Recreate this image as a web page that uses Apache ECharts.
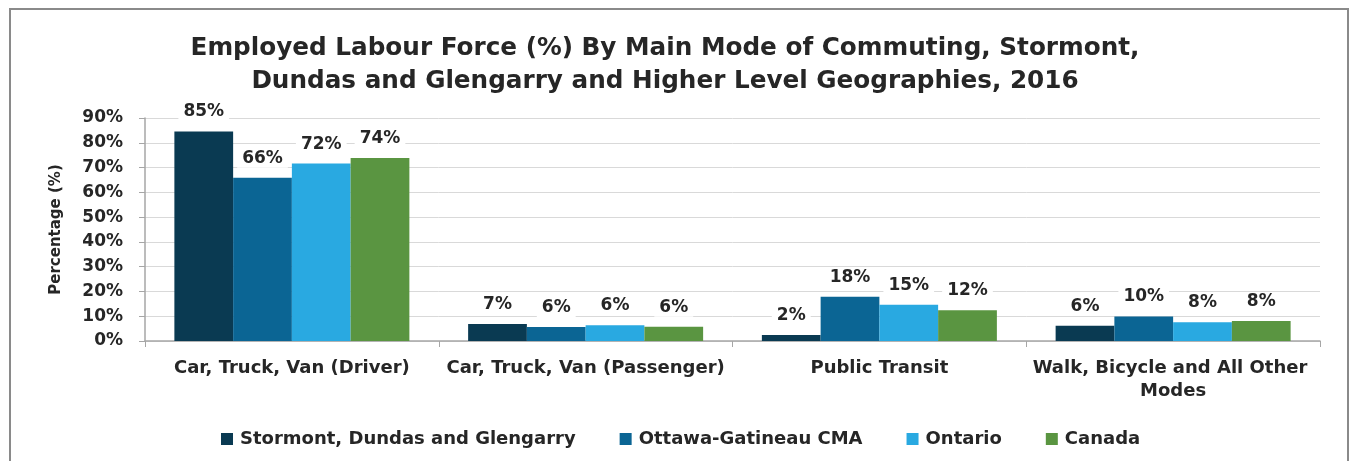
<!DOCTYPE html>
<html>
<head>
<meta charset="utf-8">
<script src="https://cdn.jsdelivr.net/npm/echarts@6/dist/echarts.min.js"></script>
<style>
  html, body { margin: 0; padding: 0; background: #fff; }
  #chart { width: 1349px; height: 461px; }
</style>
</head>
<body>
<div id="chart"></div>
<script>
var categories = ['Car, Truck, Van (Driver)', 'Car, Truck, Van (Passenger)', 'Public Transit', 'Walk, Bicycle and All Other Modes'];
var seriesNames = ['Stormont, Dundas and Glengarry', 'Ottawa-Gatineau CMA', 'Ontario', 'Canada'];
var sdgValues = [84.6, 6.9, 2.4, 6.2];
var ottawaValues = [65.9, 5.7, 17.9, 9.9];
var ontarioValues = [71.6, 6.4, 14.6, 7.6];
var canadaValues = [73.9, 5.8, 12.4, 8.1];
var yTicks = [0, 10, 20, 30, 40, 50, 60, 70, 80, 90];
var colors = ['#0a3a52', '#0b6594', '#29a9e1', '#5a9541'];

var font = '"DejaVu Sans", sans-serif';
var textColor = '#262626';

var chart = echarts.init(document.getElementById('chart'));

function makeSeries(name, values, color) {
    return {
        name: name,
        type: 'bar',
        data: values,
        barGap: '0%',
        barCategoryGap: '20%',
        itemStyle: { color: color },
        label: {
            show: true,
            position: 'top',
            distance: 10,
            color: textColor,
            fontFamily: font,
            fontWeight: 'bold',
            fontSize: 17,
            backgroundColor: '#fff',
            padding: [1, 5],
            formatter: function (p) { return Math.round(p.value) + '%'; }
        }
    };
}

var option = {
    backgroundColor: '#fff',
    animation: false,
    color: colors,
    graphic: [{
        type: 'rect',
        shape: { x: 10, y: 9, width: 1338, height: 470 },
        style: { fill: 'none', stroke: '#8a8a8a', lineWidth: 2 },
        silent: true
    }],
    title: {
        text: 'Employed Labour Force (%) By Main Mode of Commuting, Stormont,\nDundas and Glengarry and Higher Level Geographies, 2016',
        left: 660,
        textAlign: 'center',
        top: 27,
        textStyle: {
            fontFamily: font,
            fontWeight: 'bold',
            fontSize: 24.7,
            lineHeight: 33,
            color: textColor
        }
    },
    legend: {
        data: seriesNames,
        top: 425,
        left: 216,
        icon: 'rect',
        itemWidth: 12,
        itemHeight: 12,
        itemGap: 44,
        textStyle: {
            fontFamily: font,
            fontWeight: 'bold',
            fontSize: 18,
            color: textColor,
            padding: [0, 0, 0, 2]
        }
    },
    grid: { left: 145, right: 29, top: 118, bottom: 120 },
    xAxis: {
        type: 'category',
        data: categories,
        axisLine: { lineStyle: { color: '#a6a6a6', width: 1.5 } },
        axisTick: { show: true, length: 6, lineStyle: { color: '#a6a6a6' } },
        axisLabel: {
            margin: 16,
            color: textColor,
            fontFamily: font,
            fontWeight: 'bold',
            fontSize: 18,
            lineHeight: 23,
            width: 285,
            overflow: 'break',
            interval: 0
        }
    },
    yAxis: {
        type: 'value',
        min: yTicks[0],
        max: yTicks[yTicks.length - 1],
        interval: 10,
        name: 'Percentage (%)',
        nameLocation: 'middle',
        nameGap: 81,
        nameTextStyle: {
            color: textColor,
            fontFamily: font,
            fontWeight: 'bold',
            fontSize: 15
        },
        axisLine: { show: true, lineStyle: { color: '#a6a6a6', width: 1.5 } },
        axisTick: { show: true, length: 6, lineStyle: { color: '#a6a6a6' } },
        splitLine: { lineStyle: { color: '#d9d9d9' } },
        axisLabel: {
            margin: 22,
            color: textColor,
            fontFamily: font,
            fontWeight: 'bold',
            fontSize: 17,
            formatter: '{value}%'
        }
    },
    series: [
        makeSeries(seriesNames[0], sdgValues, colors[0]),
        makeSeries(seriesNames[1], ottawaValues, colors[1]),
        makeSeries(seriesNames[2], ontarioValues, colors[2]),
        makeSeries(seriesNames[3], canadaValues, colors[3])
    ]
};

chart.setOption(option);
</script>
</body>
</html>
